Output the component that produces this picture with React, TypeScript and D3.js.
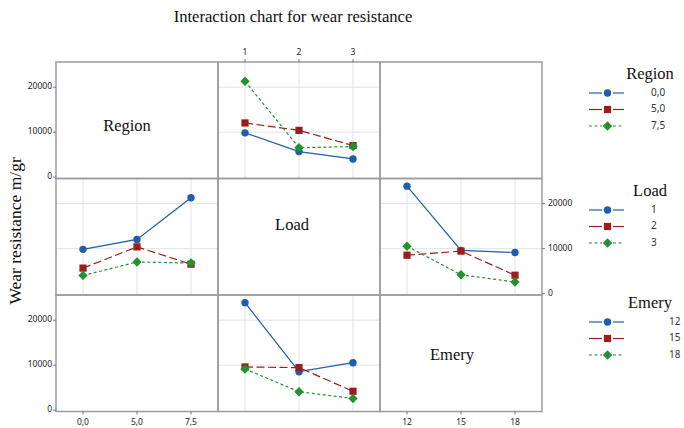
import React from "react";
import * as d3 from "d3";

// factor levels
const regionLevels = ["0,0", "5,0", "7,5"];
const loadLevels = ["1", "2", "3"];
const emeryLevels = ["12", "15", "18"];

// mean wear resistance, Region x Load (one array per region, indexed by load)
const region00ByLoad = [9850, 5680, 4050];
const region50ByLoad = [12050, 10400, 7030];
const region75ByLoad = [21330, 6550, 6810];

// mean wear resistance, Load x Emery (one array per load, indexed by emery)
const load1ByEmery = [23900, 9600, 9150];
const load2ByEmery = [8550, 9450, 4100];
const load3ByEmery = [10550, 4200, 2600];

const yTicks = [0, 10000, 20000];

const W = 684;
const H = 428;
const LEFT = 56;
const TOP = 62;
const PW = 162;
const PH = 116.5;

const COLORS = ["#1f5ea8", "#9b1c1c", "#23922e"];
const DASHES = [null, "8,3.5", "3,2.5"];
const SERIF = "'Liberation Serif', 'Times New Roman', serif";
const SANS = "'Noto Sans', 'DejaVu Sans', sans-serif";

const factors = [
  { name: "Region", levels: regionLevels },
  { name: "Load", levels: loadLevels },
  { name: "Emery", levels: emeryLevels },
];

const regionLoad = [region00ByLoad, region50ByLoad, region75ByLoad];
const loadEmery = [load1ByEmery, load2ByEmery, load3ByEmery];

// which panel shows what: series index s, x index k -> value
const panels: { row: number; col: number; value: (s: number, k: number) => number }[] = [
  { row: 0, col: 1, value: (s, k) => regionLoad[s][k] },
  { row: 1, col: 0, value: (s, k) => regionLoad[k][s] },
  { row: 1, col: 2, value: (s, k) => loadEmery[s][k] },
  { row: 2, col: 1, value: (s, k) => loadEmery[k][s] },
];

const xScales = factors.map((f, c) =>
  d3.scalePoint<string>().domain(f.levels).range([LEFT + c * PW, LEFT + (c + 1) * PW]).padding(0.5)
);
const yScales = factors.map((f, r) =>
  d3.scaleLinear().domain([-300, 25600]).range([TOP + (r + 1) * PH, TOP + r * PH])
);

const squareSym = d3.symbol().type(d3.symbolSquare).size(44)();

const Mark = ({ i, x, y }: { i: number; x: number; y: number }) => {
  const c = COLORS[i];
  if (i === 0) return <circle cx={x} cy={y} r={3.7} fill={c} />;
  if (i === 1) return <rect x={x - 3.6} y={y - 3.6} width={7.2} height={7.2} fill={c} />;
  return <path d={squareSym || ""} transform={`translate(${x},${y}) rotate(45)`} fill={c} />;
};

const labelOffsets = [
  { dx: -10, dy: 7 },
  { dx: -7, dy: -11 },
  { dx: -9, dy: 3 },
];

const legendTops = [75, 192, 304];
const legendLabelX = [651, 651, 669];

export default function App() {
  const line = d3.line<[number, number]>().x((d) => d[0]).y((d) => d[1]);

  return (
    <svg width={W} height={H} style={{ position: "absolute", left: 0, top: 0, background: "#fff" }}>
      <text x={293} y={22} textAnchor="middle" fontFamily={SERIF} fontSize={16.6} fill="#111">
        Interaction chart for wear resistance
      </text>

      {/* grid inside data panels */}
      {panels.map((p) => {
        const xs = xScales[p.col];
        const ys = yScales[p.row];
        const x0 = LEFT + p.col * PW;
        return (
          <g key={`g${p.row}${p.col}`} stroke="#e3e3e3" strokeWidth={1}>
            {xs.domain().map((l) => (
              <line key={l} x1={xs(l)} x2={xs(l)} y1={TOP + p.row * PH} y2={TOP + (p.row + 1) * PH} />
            ))}
            {yTicks.slice(1).map((t) => (
              <line key={t} x1={x0} x2={x0 + PW} y1={ys(t)} y2={ys(t)} />
            ))}
          </g>
        );
      })}

      {/* lines and markers */}
      {panels.map((p) => {
        const xs = xScales[p.col];
        const ys = yScales[p.row];
        const xLevels = factors[p.col].levels;
        return (
          <g key={`d${p.row}${p.col}`}>
            {[0, 1, 2].map((s) => {
              const pts: [number, number][] = xLevels.map((l, k) => [xs(l) as number, ys(p.value(s, k))]);
              return (
                <g key={s}>
                  <path
                    d={line(pts) || ""}
                    fill="none"
                    stroke={COLORS[s]}
                    strokeWidth={1.2}
                    strokeDasharray={DASHES[s] || undefined}
                  />
                  {pts.map((pt, k) => (
                    <Mark key={k} i={s} x={pt[0]} y={pt[1]} />
                  ))}
                </g>
              );
            })}
          </g>
        );
      })}

      {/* diagonal labels */}
      {factors.map((f, i) => (
        <text
          key={f.name}
          x={LEFT + i * PW + PW / 2 + labelOffsets[i].dx}
          y={TOP + i * PH + PH / 2 + labelOffsets[i].dy}
          textAnchor="middle"
          dominantBaseline="middle"
          fontFamily={SERIF}
          fontSize={16.5}
          fill="#111"
        >
          {f.name}
        </text>
      ))}

      {/* panel borders */}
      {[0, 1, 2].map((r) =>
        [0, 1, 2].map((c) => (
          <rect
            key={`b${r}${c}`}
            x={LEFT + c * PW}
            y={TOP + r * PH}
            width={PW}
            height={PH}
            fill="none"
            stroke="#9c9c9c"
            strokeWidth={1.5}
          />
        ))
      )}

      {/* axes */}
      <g fontFamily={SANS} fontSize={8.5} fill="#222">
        {/* left axis, rows 0 and 2 */}
        {[0, 2].map((r) =>
          yTicks.map((t) => (
            <g key={`l${r}${t}`}>
              <line x1={LEFT - 3} x2={LEFT} y1={yScales[r](t)} y2={yScales[r](t)} stroke="#777" />
              <text x={LEFT - 4} y={yScales[r](t)} textAnchor="end" dominantBaseline="middle">
                {t}
              </text>
            </g>
          ))
        )}
        {/* right axis, row 1 */}
        {yTicks.map((t) => (
          <g key={`r${t}`}>
            <line x1={LEFT + 3 * PW} x2={LEFT + 3 * PW + 3} y1={yScales[1](t)} y2={yScales[1](t)} stroke="#777" />
            <text x={LEFT + 3 * PW + 6} y={yScales[1](t)} dominantBaseline="middle">
              {t}
            </text>
          </g>
        ))}
        {/* top axis, column 1 */}
        {loadLevels.map((l) => (
          <g key={`t${l}`}>
            <line x1={xScales[1](l)} x2={xScales[1](l)} y1={TOP - 3} y2={TOP} stroke="#777" />
            <text x={xScales[1](l)} y={TOP - 9} textAnchor="middle" dominantBaseline="middle">
              {l}
            </text>
          </g>
        ))}
        {/* bottom axis, columns 0 and 2 */}
        {[0, 2].map((c) =>
          factors[c].levels.map((l) => (
            <g key={`b${c}${l}`}>
              <line
                x1={xScales[c](l)}
                x2={xScales[c](l)}
                y1={TOP + 3 * PH}
                y2={TOP + 3 * PH + 3}
                stroke="#777"
              />
              <text x={xScales[c](l)} y={TOP + 3 * PH + 11} textAnchor="middle" dominantBaseline="middle">
                {l}
              </text>
            </g>
          ))
        )}
      </g>

      <text
        transform={`translate(21,${TOP + 1.45 * PH}) rotate(-90)`}
        textAnchor="middle"
        fontFamily={SERIF}
        fontSize={17.5}
        fill="#111"
      >
        Wear resistance m/gr
      </text>

      {/* legends */}
      {factors.map((f, i) => (
        <g key={`leg${f.name}`}>
          <text x={650} y={legendTops[i]} textAnchor="middle" dominantBaseline="middle" fontFamily={SERIF} fontSize={16.5} fill="#111">
            {f.name}
          </text>
          {f.levels.map((l, s) => {
            const y = legendTops[i] + 18 + s * 16.5;
            return (
              <g key={l}>
                <line x1={589} x2={602} y1={y} y2={y} stroke={COLORS[s]} strokeWidth={1.2} strokeDasharray={s === 2 ? "3,2.5" : undefined} />
                <line x1={613} x2={624} y1={y} y2={y} stroke={COLORS[s]} strokeWidth={1.2} strokeDasharray={s === 2 ? "3,2.5" : undefined} />
                <Mark i={s} x={607.5} y={y} />
                <text x={legendLabelX[i]} y={y} dominantBaseline="middle" fontFamily={SANS} fontSize={10} fill="#333">
                  {l}
                </text>
              </g>
            );
          })}
        </g>
      ))}
    </svg>
  );
}
